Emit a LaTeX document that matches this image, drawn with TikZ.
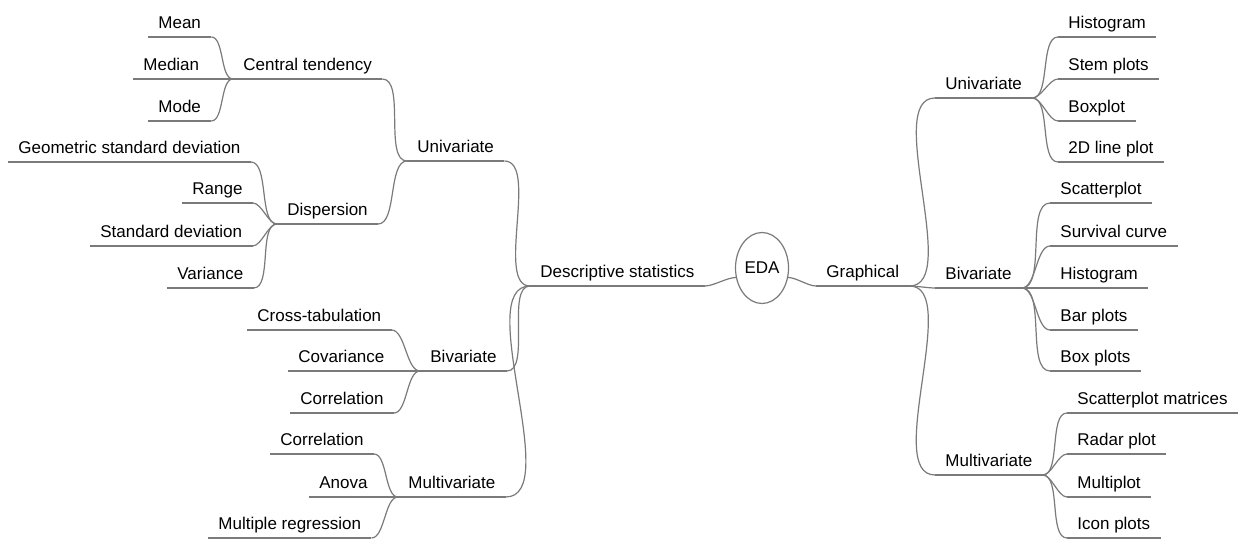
\documentclass[tikz,border=0pt]{standalone}
\usepackage{fontspec}
\setmainfont{Liberation Sans}
\usetikzlibrary{shapes.geometric}
\definecolor{linegray}{HTML}{7A7A7A}

\begin{document}
\begin{tikzpicture}[x=0.5pt, y=-0.5pt,
    font=\fontsize{8.5}{10}\selectfont,
    topic/.style={anchor=south west, inner xsep=5pt, inner ysep=2pt, text height=0.72em, text depth=0.22em},
    branch/.style={draw=linegray, line width=0.6pt},
    link/.style={branch, out=0, in=180, looseness=0.7}]
    \useasboundingbox (0,0) rectangle (1241,539);
    % root
    \node[ellipse, branch, minimum width=26.5pt, minimum height=35.5pt, inner sep=0pt] (eda) at (762,268) {EDA};
    % left half: descriptive statistics
    \node[topic] (desc) at (530,286) {Descriptive statistics};
    \node[topic] (luni) at (407,161) {Univariate};
    \node[topic] (lcent) at (233,79) {Central tendency};
    \node[topic] (lmean) at (148,37) {Mean};
    \node[topic] (lmedian) at (133,79) {Median};
    \node[topic] (lmode) at (148,121) {Mode};
    \node[topic] (ldisp) at (277,224) {Dispersion};
    \node[topic] (lgeo) at (8,162) {Geometric standard deviation};
    \node[topic] (lrange) at (182,203) {Range};
    \node[topic] (lstd) at (90,246) {Standard deviation};
    \node[topic] (lvar) at (167,288) {Variance};
    \node[topic] (lbiv) at (420,371) {Bivariate};
    \node[topic] (lcross) at (247,330) {Cross-tabulation};
    \node[topic] (lcov) at (288,371) {Covariance};
    \node[topic] (lcorr) at (290,413) {Correlation};
    \node[topic] (lmulti) at (398,497) {Multivariate};
    \node[topic] (lmcorr) at (270,454) {Correlation};
    \node[topic] (lanova) at (309,497) {Anova};
    \node[topic] (lmreg) at (208,538) {Multiple regression};
    % right half: graphical
    \node[topic] (graph) at (816,286) {Graphical};
    \node[topic] (runi) at (935,98) {Univariate};
    \node[topic] (rhist) at (1058,37) {Histogram};
    \node[topic] (rstem) at (1058,79) {Stem plots};
    \node[topic] (rbox) at (1058,121) {Boxplot};
    \node[topic] (rline) at (1058,162) {2D line plot};
    \node[topic] (rbiv) at (935,288) {Bivariate};
    \node[topic] (rscat) at (1050,203) {Scatterplot};
    \node[topic] (rsurv) at (1050,246) {Survival curve};
    \node[topic] (rhisto) at (1050,288) {Histogram};
    \node[topic] (rbar) at (1050,330) {Bar plots};
    \node[topic] (rboxp) at (1050,371) {Box plots};
    \node[topic] (rmulti) at (935,475) {Multivariate};
    \node[topic] (rsmat) at (1067,413) {Scatterplot matrices};
    \node[topic] (rradar) at (1067,454) {Radar plot};
    \node[topic] (rmultip) at (1067,497) {Multiplot};
    \node[topic] (ricon) at (1067,538) {Icon plots};
    % underlines
    \foreach \n in {desc,luni,lcent,lmean,lmedian,lmode,ldisp,lgeo,lrange,lstd,lvar,
        lbiv,lcross,lcov,lcorr,lmulti,lmcorr,lanova,lmreg,graph,runi,rhist,rstem,rbox,
        rline,rbiv,rscat,rsurv,rhisto,rbar,rboxp,rmulti,rsmat,rradar,rmultip,ricon} {
        \draw[branch] (\n.south west) -- (\n.south east);
    }
    % connectors
    \draw[link] (desc.south east) to (eda.200);
    \draw[link] (eda.-20) to (graph.south west);
    \foreach \a/\b in {luni/desc, lbiv/desc, lmulti/desc, lcent/luni, ldisp/luni,
        lmean/lcent, lmedian/lcent, lmode/lcent, lgeo/ldisp, lrange/ldisp, lstd/ldisp, lvar/ldisp,
        lcross/lbiv, lcov/lbiv, lcorr/lbiv, lmcorr/lmulti, lanova/lmulti, lmreg/lmulti,
        graph/runi, graph/rbiv, graph/rmulti, runi/rhist, runi/rstem, runi/rbox, runi/rline,
        rbiv/rscat, rbiv/rsurv, rbiv/rhisto, rbiv/rbar, rbiv/rboxp,
        rmulti/rsmat, rmulti/rradar, rmulti/rmultip, rmulti/ricon} {
        \draw[link] (\a.south east) to (\b.south west);
    }
\end{tikzpicture}
\end{document}
